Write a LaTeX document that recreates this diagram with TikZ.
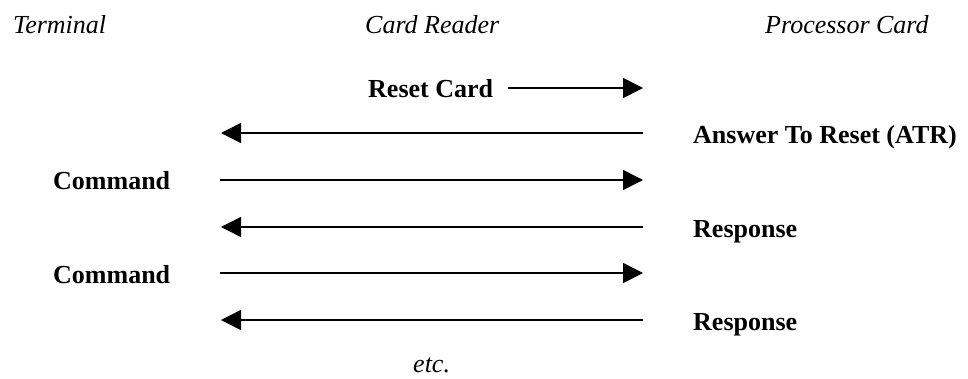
\documentclass[tikz,border=0pt]{standalone}
\usepackage{fontspec}
\setmainfont{Liberation Serif}
\usetikzlibrary{arrows.meta}
\begin{document}
\begin{tikzpicture}[x=1pt,y=-1pt,
  hdr/.style={anchor=base west,inner sep=0pt,font=\fontsize{26}{30}\selectfont\itshape},
  lbl/.style={anchor=base west,inner sep=0pt,font=\fontsize{26}{30}\selectfont\bfseries},
  msg/.style={line width=1.5pt,-{Triangle[length=20pt,width=20pt]}}]
\useasboundingbox (0,0) rectangle (968,378);
\node[hdr] (term) at (13,33) {Terminal};
\node[hdr] (reader) at (365,33) {Card Reader};
\node[hdr] (proc) at (765,33) {Processor Card};
\node[lbl] (reset) at (368,97) {Reset Card};
\node[lbl] (atr) at (693,143) {Answer To Reset (ATR)};
\node[lbl] (cmd1) at (53,189) {Command};
\node[lbl] (rsp1) at (693,237) {Response};
\node[lbl] (cmd2) at (53,283) {Command};
\node[lbl] (rsp2) at (693,330) {Response};
\node[hdr] (etc) at (413,372) {etc.};
\coordinate (a1s) at (508,88);  \coordinate (a1e) at (643,88);
\coordinate (a2s) at (643,133); \coordinate (a2e) at (221,133);
\coordinate (a3s) at (220,180); \coordinate (a3e) at (643,180);
\coordinate (a4s) at (643,227); \coordinate (a4e) at (221,227);
\coordinate (a5s) at (220,273); \coordinate (a5e) at (643,273);
\coordinate (a6s) at (643,320); \coordinate (a6e) at (221,320);
\draw[msg] (a1s) -- (a1e);
\draw[msg] (a2s) -- (a2e);
\draw[msg] (a3s) -- (a3e);
\draw[msg] (a4s) -- (a4e);
\draw[msg] (a5s) -- (a5e);
\draw[msg] (a6s) -- (a6e);
\end{tikzpicture}
\end{document}
